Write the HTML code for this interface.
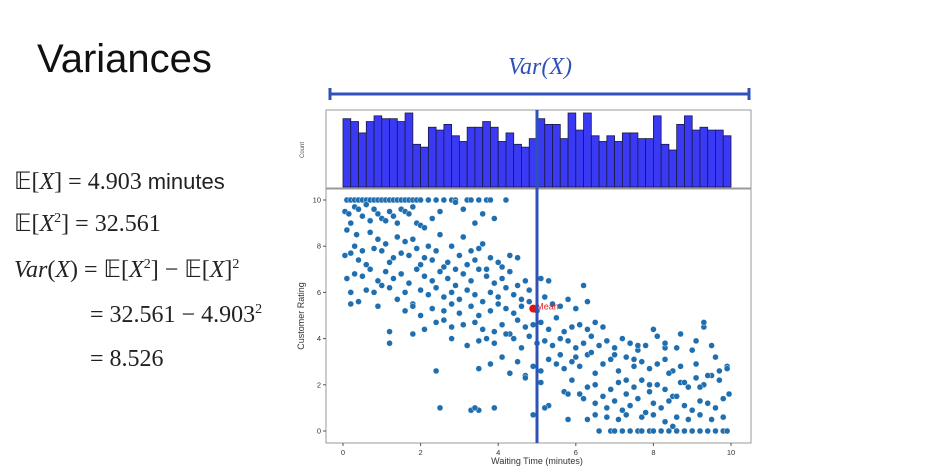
<!DOCTYPE html>
<html><head><meta charset="utf-8"><style>
html,body{margin:0;padding:0;background:#fff;width:945px;height:466px;overflow:hidden;}
svg{display:block;}
.m{font-family:"Liberation Serif",serif;font-size:24px;fill:#222;}
</style></head><body>
<svg id="s" width="945" height="466" xmlns="http://www.w3.org/2000/svg">
<text x="37" y="72" font-family="Liberation Sans,sans-serif" font-size="40" fill="#111">Variances</text>
<g>
<text class="m" x="14" y="189">𝔼[<tspan font-style="italic">X</tspan>] = 4.903 <tspan font-family="Liberation Sans,sans-serif" font-size="22">minutes</tspan></text>
<text class="m" x="14" y="231">𝔼[<tspan font-style="italic">X</tspan><tspan dy="-9" font-size="14">2</tspan><tspan dy="9">] = 32.561</tspan></text>
<text class="m" x="14" y="277"><tspan font-style="italic">Var</tspan>(<tspan font-style="italic">X</tspan>) = 𝔼[<tspan font-style="italic">X</tspan><tspan dy="-9" font-size="14">2</tspan><tspan dy="9">] − 𝔼[</tspan><tspan font-style="italic">X</tspan>]<tspan dy="-9" font-size="14">2</tspan></text>
<text class="m" x="90" y="322">= 32.561 − 4.903<tspan dy="-9" font-size="14">2</tspan></text>
<text class="m" x="90" y="366">= 8.526</text>
</g>
<text x="540" y="74" text-anchor="middle" font-family="Liberation Serif,serif" font-style="italic" font-size="24" fill="#2f52b8">Var(X)</text>
<g stroke="#2f52b8" stroke-width="3">
<line x1="330" y1="94" x2="749" y2="94"/><line x1="330" y1="88" x2="330" y2="100"/><line x1="749" y1="88" x2="749" y2="100"/>
</g>
<rect x="326" y="110" width="425" height="78" fill="none" stroke="#999"/>
<rect x="326" y="189" width="425" height="254" fill="none" stroke="#999"/>
<text transform="translate(304,150) rotate(-90)" font-family="Liberation Sans,sans-serif" font-size="6" fill="#555" text-anchor="middle">Count</text>
<g id="hist"></g>
<g id="sc"></g>
<g id="ax"></g>
<text x="537" y="464" text-anchor="middle" font-family="Liberation Sans,sans-serif" font-size="9" fill="#333">Waiting Time (minutes)</text>
<text transform="translate(304,316) rotate(-90)" text-anchor="middle" font-family="Liberation Sans,sans-serif" font-size="9" fill="#333">Customer Rating</text>
</svg>
<script>
const histCounts=[24,23,19,23,25,24,24,23,26,15,14,21,20,22,18,16,21,21,23,21,16,19,15,14,17,24,22,22,17,26,20,26,18,16,18,16,19,19,17,17,25,15,13,22,25,20,21,20,20,18];
const xTicks=[0,2,4,6,8,10];
const yTicks=[0,2,4,6,8,10];
const meanX=4.903, meanY=5.3;
const waitTimes=[0.1,0.2,0.3,0.4,0.5,0.6,0.7,0.8,0.9,1.0,1.1,1.2,1.3,1.4,1.5,1.6,1.7,1.8,1.9,2.0,2.2,2.4,2.6,2.8,2.9,3.2,3.3,3.5,3.7,3.8,4.2,
0.05,0.1,0.15,0.2,0.3,0.35,0.4,0.5,0.6,0.7,0.8,0.9,1.0,1.1,1.2,1.3,1.4,1.5,1.6,1.7,1.8,1.9,2.0,2.1,2.3,2.5,2.9,3.1,3.4,3.6,3.9,
0.05,0.2,0.3,0.4,0.5,0.6,0.7,0.8,0.9,1.0,1.1,1.2,1.3,1.4,1.5,1.6,1.7,1.8,1.9,2.0,2.1,2.2,2.3,2.4,2.5,2.6,2.7,2.8,2.9,3.0,3.1,3.2,3.3,3.4,3.5,3.6,3.7,3.8,4.0,4.1,4.3,4.5,
0.1,0.3,0.5,0.7,0.9,1.1,1.3,1.5,1.7,1.9,2.1,2.3,2.5,2.7,2.9,3.1,3.3,3.5,3.7,3.9,4.1,4.3,4.5,4.7,
0.2,0.4,0.6,0.8,1.0,1.2,1.4,1.6,1.8,2.0,2.2,2.4,2.6,2.8,3.0,3.2,3.4,3.6,3.8,4.0,4.2,4.4,4.6,4.8,5.1,5.3,
0.2,0.4,0.9,1.2,1.4,1.6,1.8,2.0,2.3,2.6,2.8,3.0,3.3,3.5,3.8,4.0,4.2,4.4,4.6,4.8,5.0,5.2,5.4,5.6,5.8,6.0,6.3,
1.2,1.8,2.1,2.4,2.6,2.8,3.1,3.4,3.6,3.9,4.1,4.3,4.5,4.7,4.9,5.1,5.3,5.5,5.7,5.9,6.1,6.3,6.5,6.7,
2.4,2.8,3.2,3.5,3.7,3.9,4.2,4.4,4.6,4.8,5.0,5.2,5.4,5.6,5.8,6.0,6.2,6.4,6.6,6.8,7.0,7.2,7.4,7.6,7.8,
3.3,3.5,3.8,4.1,4.3,4.5,4.7,4.9,5.1,5.3,5.5,5.7,5.9,6.1,6.3,6.5,6.7,6.9,7.1,7.3,7.5,7.7,7.9,8.1,8.3,8.5,8.7,9.1,
2.5,3.5,4.7,5.1,5.3,5.7,5.9,6.1,6.3,6.5,6.7,6.9,7.1,7.3,7.5,7.7,7.9,8.1,8.3,8.5,8.7,8.9,9.1,9.3,9.5,9.7,9.9,
3.4,3.9,4.9,5.2,5.8,6.2,6.5,6.8,7.0,7.2,7.4,7.6,7.8,8.0,8.2,8.4,8.6,8.8,9.0,9.2,9.4,9.6,9.8,9.95,
6.6,6.9,7.0,7.2,7.4,7.6,7.7,7.9,8.0,8.2,8.4,8.6,8.8,9.0,9.2,9.4,9.6,9.8,9.9,
5.8,6.3,6.5,6.8,7.1,7.3,7.7,8.0,8.3,8.6,8.9,9.2,9.5,9.8,
5.6,6.0,6.4,6.7,7.0,7.5,8.1,8.3,8.7,9.1,9.3,9.5,
7.4,7.6,8.0,8.3,8.6,9.0,9.3,9.6,
7.3,7.9,8.4,8.8,9.1,9.4,9.7,9.9,8.8,9.0,8.5,9.2,6.2];
const ratings=[10,10,10,10,10,10,10,10,10,10,10,10,10,10,10,10,10,10,10,10,10,10,10,10,10,10,10,10,10,10,10,
9.5,8.7,9.4,9.0,9.7,8.5,9.6,9.3,9.8,9.1,9.6,9.4,9.2,9.1,9.5,9.3,9.0,9.6,9.5,9.4,9.7,9.0,8.9,8.8,9.2,9.5,9.9,9.6,9.0,9.4,9.2,
7.6,7.7,8.0,7.4,7.8,7.2,8.6,7.9,8.3,7.8,8.1,7.3,7.5,8.4,7.7,8.2,7.6,8.3,7.9,7.2,7.5,8.0,7.4,7.8,8.5,7.1,7.3,8.0,7.0,7.6,8.4,7.2,7.8,7.4,7.9,8.1,7.0,7.5,7.3,7.1,7.6,7.5,
6.6,6.8,6.7,7.0,6.5,6.9,6.6,6.8,6.4,7.0,6.7,6.5,6.9,6.6,6.3,6.8,6.5,7.0,6.7,6.4,6.6,6.9,6.3,6.5,
6.0,5.6,6.1,6.0,6.3,6.2,5.7,6.0,5.5,6.1,5.9,6.2,5.8,6.0,5.7,6.1,5.9,5.6,6.0,5.8,6.2,5.9,5.7,6.1,6.6,6.5,
5.5,5.6,5.4,3.8,5.7,5.2,5.4,5.0,5.3,5.2,5.5,5.1,5.4,5.0,5.2,5.5,5.3,5.1,5.4,5.6,5.2,5.8,5.5,5.4,5.7,5.3,5.6,
4.3,4.2,4.4,4.7,4.8,4.5,4.6,4.7,4.4,4.3,4.6,4.2,4.8,4.5,4.6,4.7,4.4,4.9,4.3,4.5,4.6,4.4,4.7,4.5,
2.6,4.0,3.7,3.9,4.0,3.8,4.2,4.0,3.6,4.1,3.8,3.9,3.7,4.0,3.9,3.6,3.8,4.1,3.7,3.9,3.6,4.0,3.8,3.5,3.7,
0.9,2.7,2.9,3.2,2.5,3.0,2.4,2.8,2.6,3.1,2.9,2.7,3.0,2.8,3.3,2.5,2.9,3.1,2.6,3.2,2.8,3.0,2.7,2.9,3.1,2.6,2.8,2.9,
1.0,0.9,2.3,2.1,1.1,1.7,2.2,1.6,1.9,2.0,1.5,1.8,2.1,1.6,1.9,2.2,1.7,2.0,1.8,1.5,2.1,1.9,2.3,2.0,2.4,2.6,2.8,
1.0,1.0,0.7,1.0,1.6,1.4,1.2,1.0,1.3,0.9,1.1,1.4,0.8,1.2,1.0,1.3,1.5,1.1,0.9,1.3,1.2,1.0,1.4,1.6,
0,0,0,0,0,0,0,0,0,0,0,0,0,0,0,0,0,0,0,
0.5,0.5,0.7,0.6,0.5,0.7,0.6,0.7,0.4,0.6,0.5,0.7,0.5,0.6,
3.3,3.2,3.4,2.9,3.3,3.1,4.1,3.6,4.2,3.9,4.5,3.7,
3.8,3.7,4.4,3.8,3.6,3.5,4.7,3.2,
2.2,2.0,2.5,2.1,2.3,2.4,2.2,2.7,0,0,0.2,1.9,6.3];
const X0=343,X1=731,Y0=431,Y1=200,HB=187,HT=113,HMAX=26;
const sx=v=>X0+(X1-X0)*v/10, sy=v=>Y0-(Y0-Y1)*v/10, hy=c=>HB-(HB-HT)*c/HMAX;
const NS='http://www.w3.org/2000/svg';
function mk(t,a,p){const e=document.createElementNS(NS,t);for(const k in a)e.setAttribute(k,a[k]);p.appendChild(e);return e;}
const hist=document.getElementById('hist'),sc=document.getElementById('sc'),ax=document.getElementById('ax');
const bw=(sx(10)-sx(0))/histCounts.length;
histCounts.forEach((c,i)=>{const r=mk('rect',{x:sx(0)+i*bw,y:hy(c),width:bw,height:HB-hy(c),fill:'#3a3af5',stroke:'#1a1a40','stroke-width':0.8},hist);

});
waitTimes.forEach((x,i)=>{if(ratings[i]===undefined)return;const c=mk('circle',{cx:sx(x),cy:sy(ratings[i]),r:3,fill:'#1f6fb0',stroke:'#fff','stroke-width':0.4},sc);

});
const mp=mk('circle',{cx:sx(meanX),cy:sy(meanY),r:4,fill:'#e01515'},sc);


const mt=mk('text',{x:sx(meanX)+3,y:sy(meanY)+1,'font-family':'Liberation Sans,sans-serif','font-size':9,fill:'#d22'},sc);mt.textContent='Mean';


xTicks.forEach(t=>{const l=mk('text',{x:sx(t),y:455,'text-anchor':'middle','font-family':'Liberation Sans,sans-serif','font-size':7.5,fill:'#333'},ax);l.textContent=t;


mk('line',{x1:sx(t),x2:sx(t),y1:443,y2:446,stroke:'#555'},ax);});
yTicks.forEach(t=>{const l=mk('text',{x:321,y:sy(t)+2.5,'text-anchor':'end','font-family':'Liberation Sans,sans-serif','font-size':7.5,fill:'#333'},ax);l.textContent=t;


mk('line',{x1:323,x2:326,y1:sy(t),y2:sy(t),stroke:'#555'},ax);});
const vl=mk('line',{x1:537,x2:537,y1:110,y2:443,stroke:'#2f52b8','stroke-width':3},ax);


</script>
</body></html>
